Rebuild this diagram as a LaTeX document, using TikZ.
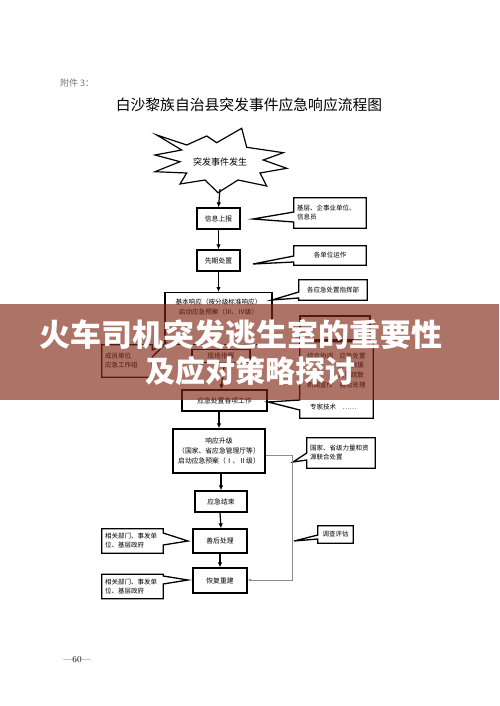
\documentclass[tikz,border=0pt]{standalone}
\usepackage{fontspec}
\newfontfamily\cjk{Noto Sans CJK SC}
\usetikzlibrary{arrows.meta}
\definecolor{bannerc}{RGB}{130,40,23}
\begin{document}
\begin{tikzpicture}[x=1pt,y=-1pt,
  box/.style={draw, line width=1.3pt, fill=white, inner sep=0pt, align=center,
    font=\cjk\fontsize{6.8}{9}\selectfont},
  cbox/.style={inner sep=3pt, align=left, font=\cjk\fontsize{6.5}{9}\selectfont},
  cline/.style={line width=1.3pt, line join=miter},
  arr/.style={line width=1.2pt, -{Latex[length=5pt,width=4.5pt]}},
  grayarr/.style={line width=0.9pt, draw=black!45, -{Latex[length=3.5pt,width=3pt]}},
  small/.style={inner sep=0pt, font=\cjk\fontsize{6.5}{9}\selectfont}]
\useasboundingbox (0,0) rectangle (499,706);
\fill[white] (0,0) rectangle (499,706);

% header
\node[inner sep=0pt, anchor=west, text=black!55, font=\cjk\fontsize{9}{11}\selectfont] (att) at (60,83) {附件 3：};
\node[inner sep=0pt, font=\cjk\fontsize{14.8}{17}\selectfont] (title) at (249,105) {白沙黎族自治县突发事件应急响应流程图};

% starburst
\filldraw[fill=white, line width=1.2pt, line join=miter]
  (156.7,135) -- (186.7,145) -- (206.7,136) -- (216.7,142.7) -- (241.7,128.3)
  -- (246.7,147.3) -- (283.3,152.7) -- (263.3,160) -- (286.7,168.3) -- (260,173)
  -- (266.7,186) -- (238,180) -- (218,192.7) -- (205,180) -- (180,184)
  -- (186.7,173) -- (155,171.7) -- (180,161.7) -- (155,155) -- (181.7,150) -- cycle;
\node[inner sep=0pt, font=\cjk\fontsize{9}{11}\selectfont] (burst) at (220,162) {突发事件发生};
\coordinate (burstb) at (220,189);

% main chain
\node[box, minimum width=43pt, minimum height=21pt] (info) at (218.5,218.5) {信息上报};
\node[box, minimum width=43pt, minimum height=21pt] (first) at (218.5,260.5) {先期处置};
\node[box, minimum width=107pt, minimum height=52pt, anchor=north] (basic) at (218.5,292) {};
\node[small, align=center, font=\cjk\fontsize{6.6}{10}\selectfont] (basict) at (218.5,307) {基本响应（按分级标准响应）\\启动应急预案（Ⅲ、Ⅳ级）};
\node[box, minimum width=58pt, minimum height=13pt] (site) at (221,356) {现场指挥};
\node[box, minimum width=85pt, minimum height=21pt] (work) at (224.5,400.5) {应急处置各项工作};
\node[box, minimum width=92pt, minimum height=44pt, font=\cjk\fontsize{6.8}{10}\selectfont] (up) at (219,451) {响应升级\\（国家、省应急管理厅等）\\启动应急预案（Ⅰ、Ⅱ级）};
\node[box, minimum width=52pt, minimum height=21pt] (end) at (221,501.5) {应急结束};
\node[box, minimum width=54pt, minimum height=24pt] (after) at (220,541) {善后处理};
\node[box, minimum width=54pt, minimum height=25pt] (rebuild) at (220,580.5) {恢复重建};

\draw[arr] (burstb) -- (info.north);
\draw[arr] (info) -- (first);
\draw[arr] (first) -- (basic.north);
\draw[arr] (basic.south -| site.north) -- (site.north);
\draw[arr] (site.south -| work.north) -- (work.north -| site.south);
\draw[arr] (work.south -| up.north) -- (up.north);
\draw[arr] (up.south -| end.north) -- (end.north);
\draw[arr] (end.south -| after.north) -- (after.north -| end.south);
\draw[arr] (after) -- (rebuild);

% right callouts (pointer to the left)
\node[cbox, minimum width=72pt, minimum height=30pt, text width=66pt] (c1) at (330,213) {基层、企事业单位、\\信息员};
\coordinate (t1) at (253,219);
\draw[cline] (c1.north west) -- (c1.north east) -- (c1.south east) -- (c1.south west)
  -- (c1.west |- 0,222) -- (t1) -- (c1.west |- 0,212) -- cycle;

\node[cbox, align=center, minimum width=72pt, minimum height=19pt] (c2) at (330,255.5) {各单位运作};
\coordinate (t2) at (253,264);
\draw[cline] (c2.north west) -- (c2.north east) -- (c2.south east) -- (c2.south west)
  -- (c2.west |- 0,262) -- (t2) -- (c2.west |- 0,256) -- cycle;

\node[cbox, align=center, minimum width=68pt, minimum height=20pt] (c3) at (333,290) {各应急处置指挥部};
\coordinate (t3) at (272,300);
\draw[cline] (c3.north west) -- (c3.north east) -- (c3.south east) -- (c3.south west)
  -- (c3.west |- 0,298) -- (t3) -- (c3.west |- 0,292) -- cycle;

\node[draw, line width=1.3pt, minimum width=70pt, minimum height=24pt, inner sep=0pt] (grp) at (335,328) {};
\node[minimum width=73pt, minimum height=76pt, inner sep=0pt] (ops) at (336.5,380) {};
\coordinate (t4) at (268,402);
\draw[cline] (ops.north west) -- (ops.north east) -- (ops.south east) -- (ops.south west)
  -- (ops.west |- 0,410) -- (t4) -- (ops.west |- 0,400) -- cycle;
\node[small, anchor=west] (o1) at (307,356) {综合协调\quad 应急处置};
\node[small, anchor=east] (o2) at (364,365.5) {医疗救援};
\node[small, anchor=east] (o3) at (364,375) {人员疏散};
\node[small, anchor=west] (o4) at (307,385) {新闻宣传\quad 善后处理};
\node[small, anchor=west] (o5) at (310,407) {专家技术\quad ……};

% left callout (member units)
\node[cbox, minimum width=50pt, minimum height=32pt, text width=44pt] (m1) at (127,361) {成员单位\\应急工作组};
\coordinate (tm) at (165,344);
\draw[cline] (m1.north west) -- (m1.north east) -- (m1.east |- 0,350) -- (tm) -- (m1.east |- 0,357)
  -- (m1.south east) -- (m1.south west) -- cycle;

% upgrade callout
\node[cbox, minimum width=68pt, minimum height=30pt, text width=62pt] (c5) at (341,453) {国家、省级力量和资\\源联合处置};
\coordinate (t5) at (293,462);
\draw[cline] (c5.north west) -- (c5.north east) -- (c5.south east) -- (c5.south west)
  -- (c5.west |- 0,460) -- (t5) -- (c5.west |- 0,453) -- cycle;

% gray feedback line
\coordinate (g1) at (292,455);
\coordinate (g2) at (292,580);
\draw[grayarr] (up.east |- g1) -- (g1) -- (g2) -- (rebuild.east |- g2);

\node[cbox, align=center, minimum width=35pt, minimum height=17pt] (c6) at (335.5,534.5) {调查评估};
\coordinate (t6) at (294,541);
\draw[cline] (c6.north west) -- (c6.north east) -- (c6.south east) -- (c6.south west)
  -- (c6.west |- 0,539) -- (t6) -- (c6.west |- 0,535) -- cycle;

% left callouts bottom
\node[cbox, minimum width=61pt, minimum height=24pt, text width=55pt] (l1) at (132.5,541) {相关部门、事发单\\位、基层政府};
\coordinate (tl1) at (188,541);
\draw[cline] (l1.north west) -- (l1.north east) -- (l1.east |- 0,533) -- (tl1) -- (l1.east |- 0,545)
  -- (l1.south east) -- (l1.south west) -- cycle;

\node[cbox, minimum width=61pt, minimum height=24pt, text width=55pt] (l2) at (132.5,586.5) {相关部门、事发单\\位、基层政府};
\coordinate (tl2) at (188,580);
\draw[cline] (l2.north west) -- (l2.north east) -- (l2.east |- 0,576) -- (tl2) -- (l2.east |- 0,584)
  -- (l2.south east) -- (l2.south west) -- cycle;

% page number
\node[inner sep=0pt, font=\fontsize{9}{11}\selectfont] (page) at (77,660) {---60---};

% banner overlay
\fill[bannerc, opacity=0.65] (0,304) rectangle (499,400);
\node[inner sep=0pt, text=white, font=\cjk\bfseries\fontsize{31}{36}\selectfont] (bt1) at (241,335) {火车司机突发逃生室的重要性};
\node[inner sep=0pt, text=white, font=\cjk\bfseries\fontsize{30}{36}\selectfont] (bt2) at (250,371) {及应对策略探讨};
\end{tikzpicture}
\end{document}
